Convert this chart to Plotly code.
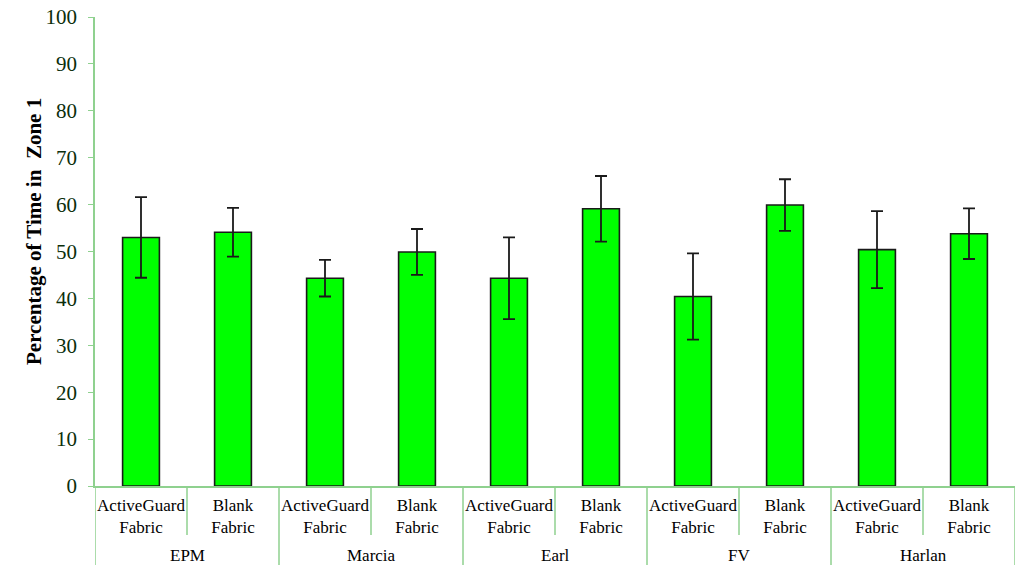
import plotly.graph_objects as go

subjects = ["EPM", "Marcia", "Earl", "FV", "Harlan"]
fabric_labels = ["ActiveGuard<br>Fabric", "Blank<br>Fabric"]
pct_zone1 = [53.0, 54.1, 44.3, 49.9, 44.3, 59.1, 40.4, 59.9, 50.4, 53.8]
err = [8.6, 5.2, 3.9, 4.9, 8.7, 7.0, 9.2, 5.5, 8.2, 5.4]

AXIS_GREEN = "#8fd18f"
TEXT_GREEN = "#0b2e0b"
SERIF = "Liberation Serif, Times New Roman, serif"

FIG_W, FIG_H = 1024, 580
MARGIN = dict(l=95, r=9, t=17, b=94)
PLOT_H = FIG_H - MARGIN["t"] - MARGIN["b"]

x_pos = list(range(len(pct_zone1)))
tick_text = fabric_labels * len(subjects)

fig = go.Figure()
fig.add_bar(
    x=x_pos,
    y=pct_zone1,
    marker=dict(color="#00ff00", line=dict(color="#1a1a1a", width=1.6)),
    error_y=dict(type="data", array=err, visible=True, color="#1a1a1a", thickness=1.8, width=6),
    width=0.4,
)

# outer group labels and divider lines below the axis
for i, name in enumerate(subjects):
    fig.add_annotation(
        x=2 * i + 0.5, y=0, xref="x", yref="paper", yshift=-69,
        text=name, showarrow=False, yanchor="middle",
        font=dict(family=SERIF, size=17, color="black"),
    )
for k in range(len(subjects) + 1):
    fig.add_shape(
        type="line", xref="x", yref="paper",
        x0=2 * k - 0.5, x1=2 * k - 0.5, y0=0, y1=-79 / PLOT_H,
        line=dict(color=AXIS_GREEN, width=1.5),
    )
for k in range(len(subjects)):
    fig.add_shape(
        type="line", xref="x", yref="paper",
        x0=2 * k + 0.5, x1=2 * k + 0.5, y0=0, y1=-49 / PLOT_H,
        line=dict(color=AXIS_GREEN, width=1.5),
    )

fig.add_annotation(
    x=0, y=(486 - 232) / PLOT_H, xref="paper", yref="paper", xshift=-75,
    text="<b>Percentage of Time in  Zone 1</b>", textangle=-90, showarrow=False,
    font=dict(family=SERIF, size=21, color="black"),
)

fig.update_layout(
    width=FIG_W,
    height=FIG_H,
    margin=MARGIN,
    plot_bgcolor="white",
    paper_bgcolor="white",
    showlegend=False,
    font=dict(family=SERIF, color="black"),
    xaxis=dict(
        range=[-0.5, 9.5],
        tickvals=x_pos,
        ticktext=tick_text,
        showline=True,
        linecolor=AXIS_GREEN,
        linewidth=1.5,
        tickfont=dict(size=17, color="black"),
        showgrid=False,
        zeroline=False,
        ticks="",
        ticklabelstandoff=3,
        automargin=False,
    ),
    yaxis=dict(
        range=[0, 100],
        dtick=10,
        showline=True,
        linecolor=AXIS_GREEN,
        linewidth=1.5,
        ticks="outside",
        ticklen=5,
        tickcolor=AXIS_GREEN,
        showgrid=False,
        zeroline=False,
        tickfont=dict(size=21, color=TEXT_GREEN),
        ticklabelstandoff=7,
        ticklabeloverflow="allow",
        automargin=False,
    ),
)

# drop the browser's default body margin so the figure fills the window
fig.write_html(
    "out.html",
    config={"displayModeBar": False},
    post_script="document.body.style.margin = '0';",
)
